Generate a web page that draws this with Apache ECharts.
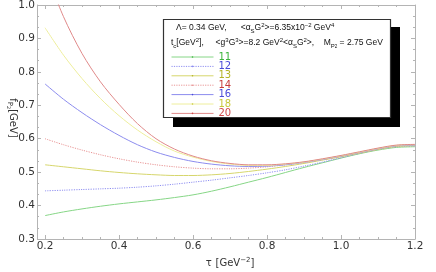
<!DOCTYPE html>
<html><head><meta charset="utf-8">
<script src="https://cdn.jsdelivr.net/npm/echarts@6/dist/echarts.min.js"></script>
<style>html,body{margin:0;padding:0;background:#fff}#c{width:436px;height:272px}</style>
</head><body><div id="c"></div>
<script>
// tau values (GeV^-2)
const tau = [0.20,0.25,0.30,0.35,0.40,0.45,0.50,0.55,0.60,0.65,0.70,0.75,0.80,0.85,0.90,0.95,1.00,1.05,1.10,1.15,1.20];
const tcLabels = ['11','12','13','14','16','18','20'];
const f11 = [0.370,0.381,0.390,0.398,0.405,0.411,0.417,0.424,0.432,0.443,0.456,0.470,0.484,0.499,0.514,0.528,0.542,0.555,0.566,0.574,0.576];
const f12 = [0.444,0.446,0.448,0.450,0.452,0.455,0.459,0.464,0.470,0.476,0.483,0.490,0.498,0.507,0.518,0.530,0.543,0.556,0.568,0.576,0.578];
const f13 = [0.522,0.516,0.510,0.504,0.499,0.495,0.492,0.490,0.490,0.492,0.496,0.502,0.509,0.517,0.526,0.536,0.546,0.557,0.568,0.577,0.579];
const f14 = [0.600,0.582,0.566,0.552,0.540,0.530,0.522,0.516,0.512,0.510,0.510,0.512,0.516,0.522,0.529,0.537,0.547,0.558,0.569,0.578,0.580];
const f16 = [0.764,0.718,0.678,0.642,0.610,0.582,0.560,0.544,0.532,0.524,0.519,0.517,0.518,0.522,0.529,0.538,0.548,0.559,0.570,0.579,0.581];
const f18 = [0.932,0.850,0.780,0.720,0.669,0.626,0.591,0.563,0.545,0.532,0.524,0.520,0.520,0.524,0.530,0.539,0.549,0.560,0.571,0.580,0.582];
const f20 = [1.105,0.965,0.855,0.770,0.703,0.645,0.600,0.569,0.548,0.534,0.526,0.522,0.522,0.525,0.531,0.540,0.550,0.561,0.572,0.581,0.583];

const allSeries = [f11,f12,f13,f14,f16,f18,f20];
const lineColors = ['#86d686','#8e8ef0','#d6d66c','#e89494','#8c8cee','#eeee9c','#e08a8a'];
const textColors = ['#3cb43c','#4a4ad8','#b4b426','#c83c3c','#4a4ad8','#c8c83a','#d04a4a'];
const dashed = [false,true,false,true,false,false,false];

const frameColor = '#b4b4b4';
const font = 'DejaVu Sans';
const hfont = 'Liberation Sans';

const series = allSeries.map((arr, i) => ({
  name: tcLabels[i],
  type: 'line',
  xAxisIndex: 0, yAxisIndex: 0,
  data: tau.map((t, j) => [t, arr[j]]),
  smooth: 0.3,
  showSymbol: false,
  symbol: dashed[i] ? 'none' : 'circle',
  symbolSize: 2,
  clip: true,
  lineStyle: {color: lineColors[i], width: 1, type: dashed[i] ? [1.2, 1.2] : 'solid'},
  itemStyle: {color: dashed[i] ? lineColors[i] : textColors[i]},
  emphasis: {disabled: true}
}));

const baseX = {type:'value', min:0.2, max:1.2, interval:0.2, splitLine:{show:false},
  axisLine:{lineStyle:{color:frameColor, width:1}},
  axisTick:{inside:true, length:4, lineStyle:{color:frameColor}},
  minorTick:{show:true, splitNumber:4, length:2, lineStyle:{color:frameColor}}};
const baseY = {type:'value', min:0.3, max:1.0, interval:0.1, splitLine:{show:false},
  axisLine:{show:true, lineStyle:{color:frameColor}},
  axisTick:{show:true, inside:true, length:4, lineStyle:{color:frameColor}},
  minorTick:{show:true, splitNumber:3, length:2, lineStyle:{color:frameColor}}};
const hrich = {
  n:{fontSize:8.5, fontFamily:hfont, fill:'#111', lineHeight:12},
  sup:{fontSize:6, fontFamily:hfont, fill:'#111', verticalAlign:'top', lineHeight:8},
  sub:{fontSize:6, fontFamily:hfont, fill:'#111', verticalAlign:'bottom', lineHeight:8},
  sub2:{fontSize:4.5, fontFamily:hfont, fill:'#111', verticalAlign:'bottom', lineHeight:7}
};
const yrich = {
  n:{fontSize:10, fontFamily:font, fill:'#333', lineHeight:14},
  sub:{fontSize:7, fontFamily:font, fill:'#333', verticalAlign:'bottom', lineHeight:10},
  sub2:{fontSize:5, fontFamily:font, fill:'#333', verticalAlign:'bottom', lineHeight:8}
};
const chart = echarts.init(document.getElementById('c'), null, {renderer:'canvas'});
chart.setOption({
  animation: false,
  grid: {left: 45, right: 21, top: 5, bottom: 33, outerBoundsMode: 'none', containLabel: false},
  xAxis: [
    Object.assign({}, baseX, {position:'bottom',
      axisLabel:{color:'#333', fontSize:10.5, fontFamily:font, margin:2, formatter: v => v.toFixed(1)},
      name: '{n|τ} {n|[GeV}{sup|−2}{n|]}', nameLocation:'middle', nameGap:15,
      nameTextStyle:{color:'#333', fontFamily:font, rich:{n:{fontSize:10, fontFamily:font, color:'#333', lineHeight:14}, sup:{fontSize:7, fontFamily:font, color:'#333', verticalAlign:'top', lineHeight:10}}}
    }),
    Object.assign({}, baseX, {position:'top', axisLabel:{show:false}})
  ],
  yAxis: [
    Object.assign({}, baseY, {position:'left', offset:8,
      axisLabel:{color:'#333', fontSize:10.5, fontFamily:font, margin:2, formatter: v => v.toFixed(1)}
    }),
    Object.assign({}, baseY, {position:'right', axisLabel:{show:false}})
  ],
  legend: {
    show:true, orient:'vertical', left:171, top:52, itemWidth:42, itemHeight:2, itemGap:-0.6,
    padding:0, selectedMode:false, z:20,
    lineStyle:{width:1},
    textStyle:{fontSize:10, fontFamily:font, lineHeight:8},
    data: tcLabels.map((n,i) => ({name:n, textStyle:{color:textColors[i]}}))
  },
  graphic: [
    {type:'text', z:5, x:13, y:118, rotation:-Math.PI/2, style:{
      text:'{n|f}{sub|P}{sub2|2}{n|[GeV]}', align:'center', verticalAlign:'middle', rich:yrich}, silent:true},
    {type:'line', z:5, shape:{x1:37, y1:239.5, x2:45, y2:239.5}, style:{stroke:frameColor, lineWidth:1}, silent:true},
    {type:'line', z:5, shape:{x1:37, y1:5.5, x2:45, y2:5.5}, style:{stroke:frameColor, lineWidth:1}, silent:true},
    {type:'rect', z:10, shape:{x:173, y:27, width:227, height:100}, style:{fill:'#000'}, silent:true},
    {type:'rect', z:11, shape:{x:163.5, y:19.5, width:227, height:98}, style:{fill:'#fff', stroke:'#333', lineWidth:1.2}, silent:true},
    {type:'text', z:12, x:176, y:28, style:{
      text:'{n|Λ= 0.34 GeV,      <α}{sub|S}{n|G}{sup|2}{n|>=6.35x10}{sup|−2}{n| GeV}{sup|4}',
      verticalAlign:'middle', rich:hrich}},
    {type:'text', z:12, x:171, y:43, style:{
      text:'{n|t}{sub|c}{n|[GeV}{sup|2}{n|],     <g}{sup|3}{n|G}{sup|3}{n|>=8.2 GeV}{sup|2}{n|<α}{sub|S}{n|G}{sup|2}{n|>,    M}{sub|P}{sub2|2}{n| = 2.75 GeV}',
      verticalAlign:'middle', rich:hrich}}
  ],
  series: series
});
</script></body></html>
